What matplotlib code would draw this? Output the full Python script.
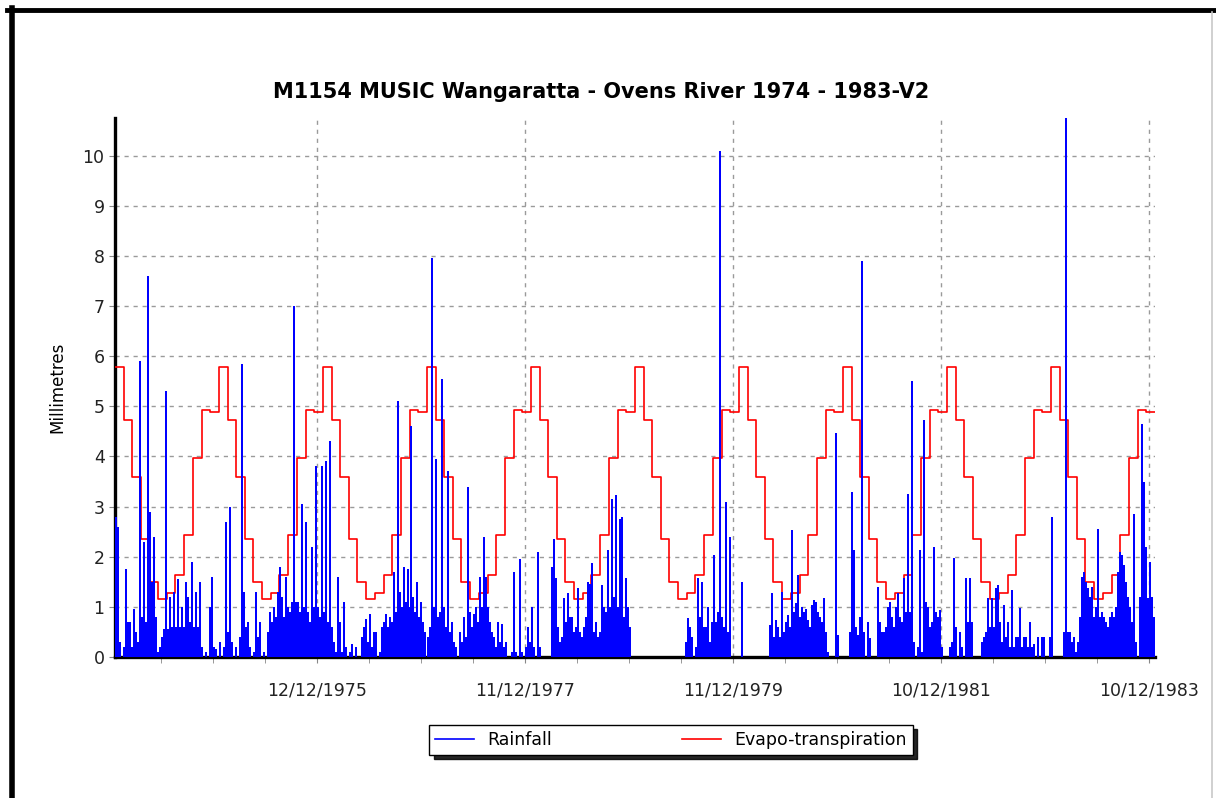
import datetime as dt
import matplotlib
matplotlib.use('Agg')
import matplotlib.pyplot as plt
from matplotlib.lines import Line2D

# weekly rainfall (mm), 52 values per year (max of each week)
rain_1974 = [2.8, 2.6, 0.3, 0, 0.2, 1.75, 0.7, 0.7, 0.2, 0.95, 0.5, 0.3, 5.9, 0.8, 2.3, 0.7,
             7.6, 2.9, 1.5, 2.4, 0.8, 0.1, 0.2, 0.4, 0.55, 5.3, 0.55, 1.2, 0.6, 1.3, 0.6, 1.55,
             0.6, 1.0, 0.6, 1.5, 1.2, 0.7, 1.9, 0.6, 1.3, 0.6, 1.5, 0.2, 0, 0.1, 0, 1.0,
             1.6, 0.2, 0.15, 0]
rain_1975 = [0.3, 0, 0.2, 2.7, 0.5, 3.0, 0.3, 0, 0.2, 0, 0.4, 5.85, 1.3, 0.6, 0.7, 0.2,
             0, 0.1, 1.3, 0.4, 0.7, 0, 0.1, 0, 0.5, 0.9, 0.7, 1.0, 0.8, 1.3, 1.8, 1.2,
             0.8, 1.6, 1.0, 0.9, 1.1, 7.0, 1.1, 1.1, 0.9, 3.05, 1.0, 2.7, 0.9, 0.7, 2.2, 1.0,
             3.8, 1.0, 0.8, 3.8]
rain_1976 = [0.9, 3.9, 0.7, 4.3, 0.6, 0.3, 0.1, 1.6, 0.7, 0.1, 1.1, 0.2, 0, 0.1, 0.25, 0,
             0.2, 0, 0, 0.4, 0.6, 0.75, 0.3, 0.85, 0.2, 0.5, 0.5, 0, 0.1, 0.6, 0.7, 0.85,
             0.6, 0.8, 0.7, 1.7, 0.9, 5.1, 1.3, 1.0, 1.8, 1.1, 1.75, 1.0, 4.6, 1.2, 0.9, 1.5,
             0.8, 1.1, 0.7, 0.5]
rain_1977 = [0.4, 0.6, 7.95, 1.0, 3.95, 0.8, 0.9, 5.55, 1.0, 0.6, 3.7, 0.5, 0.7, 0.3, 0.2, 0,
             0.5, 0.3, 0.8, 0.4, 3.4, 0.9, 0.6, 0.85, 1.0, 0.7, 1.6, 1.0, 2.4, 1.6, 1.0, 0.7,
             0.5, 0.4, 0.2, 0.7, 0.3, 0.65, 0.2, 0.3, 0, 0, 0.1, 1.7, 0.1, 0, 1.95, 0.1,
             0, 0.2, 0.6, 0.3]
rain_1978 = [1.0, 0.2, 0, 2.1, 0.2, 0, 0, 0, 0, 0, 1.8, 2.35, 1.57, 0.6, 0.3, 0.4,
             1.17, 0.7, 1.27, 0.8, 0.8, 0.5, 0.6, 1.37, 0.5, 0.4, 0.6, 0.8, 1.5, 1.45, 1.87, 0.5,
             0.7, 0.4, 0.5, 1.43, 1.0, 0.9, 2.13, 1.0, 3.16, 1.2, 3.23, 1.0, 2.76, 2.8, 0.8, 1.57,
             1.0, 0.6, 0, 0]
rain_1979 = [0, 0, 0, 0, 0, 0, 0, 0, 0, 0, 0, 0, 0, 0, 0, 0,
             0, 0, 0, 0, 0, 0, 0, 0, 0, 0.3, 0.77, 0.6, 0.4, 0, 0.2, 1.57,
             0.8, 1.5, 0.6, 0.6, 1.0, 0.3, 0.7, 2.03, 0.7, 0.9, 10.1, 0.8, 0.6, 3.1, 0.5, 2.4,
             0, 0, 0, 0]
rain_1980 = [0, 1.5, 0, 0, 0, 0, 0, 0, 0, 0, 0, 0, 0, 0, 0, 0.64,
             1.27, 0.4, 0.74, 0.6, 0.4, 1.3, 0.5, 0.7, 0.84, 0.6, 2.53, 0.9, 1.07, 1.63, 0.8, 1.0,
             0.9, 0.95, 0.74, 0.6, 1.04, 1.13, 1.1, 0.9, 0.8, 0.7, 1.17, 0.5, 0.1, 0, 0, 0,
             4.46, 0.44, 0, 0]
rain_1981 = [0, 0, 0, 0.5, 3.3, 2.13, 0.6, 0.44, 0.8, 7.9, 0.5, 0, 0.7, 0.37, 0, 0,
             0, 1.4, 0.7, 0.5, 0.5, 0.6, 1.0, 1.1, 0.8, 0.6, 1.0, 1.27, 0.8, 0.7, 1.57, 0.9,
             3.26, 0.9, 5.5, 0.3, 0, 0.2, 2.13, 0.1, 4.72, 1.1, 1.0, 0.6, 0.7, 2.2, 0.9, 0.8,
             0.94, 0.2, 0, 0]
rain_1982 = [0, 0.2, 0.3, 1.97, 0.6, 0, 0.5, 0.2, 0, 1.57, 0.7, 1.57, 0.7, 0, 0, 0,
             0, 0.3, 0.4, 0.5, 1.17, 0.6, 1.17, 0.6, 1.37, 1.43, 0.7, 0.3, 1.04, 0.4, 0.7, 0.2,
             1.33, 0.2, 0.4, 0.4, 0.97, 0.2, 0.4, 0.4, 0.2, 0.7, 0.2, 0.25, 0, 0.4, 0, 0.4,
             0.4, 0, 0, 0.4]
rain_1983 = [2.8, 0, 0, 0, 0, 0, 0.5, 10.75, 0.5, 0.5, 0.3, 0.4, 0.1, 0.3, 0.8, 1.6,
             1.7, 1.5, 1.37, 1.2, 1.4, 0.8, 1.0, 2.56, 0.8, 0.9, 0.8, 0.7, 0.6, 0.8, 0.9, 0.8,
             1.0, 1.7, 2.1, 2.03, 1.83, 1.5, 1.2, 1.0, 0.7, 2.86, 0.3, 0, 1.2, 4.65, 3.5, 2.2,
             1.17, 1.9, 1.2, 0.8]

years = [1974, 1975, 1976, 1977, 1978, 1979, 1980, 1981, 1982, 1983]
rain_by_year = [rain_1974, rain_1975, rain_1976, rain_1977, rain_1978,
                rain_1979, rain_1980, rain_1981, rain_1982, rain_1983]

# monthly evapo-transpiration (mm/day), Jan..Dec - the same cycle every year
et_monthly = [5.78, 4.72, 3.59, 2.36, 1.50, 1.16, 1.27, 1.63, 2.43, 3.96, 4.92, 4.89]

tick_labels = ['12/12/1975', '11/12/1977', '11/12/1979', '10/12/1981', '10/12/1983']

title = 'M1154 MUSIC Wangaratta - Ovens River 1974 - 1983-V2'

plt.rcParams['font.family'] = ['DejaVu Sans']

fig = plt.figure(figsize=(12.16, 7.98), dpi=100)
ax = fig.add_axes([0.0946, 0.1767, 0.8553, 0.6754])

# evapo-transpiration step line
et_dates = []
et_vals = []
for y in years:
    for m in range(12):
        et_dates.append(dt.datetime(y, m + 1, 1))
        et_vals.append(et_monthly[m])
et_dates.append(dt.datetime(years[-1] + 1, 1, 1))
et_vals.append(et_monthly[-1])
ax.step(et_dates, et_vals, where='post', color='#ff0000', lw=1.2, zorder=3)

# rainfall spikes
for y, vals in zip(years, rain_by_year):
    d = [dt.datetime(y, 1, 1) + dt.timedelta(days=7 * k + 3) for k in range(len(vals))]
    ax.vlines(d, 0, vals, colors='#0000ff', lw=1.1, zorder=4, antialiased=False)

ax.set_xlim(dt.datetime(1974, 1, 1), dt.datetime(1984, 1, 1))
ax.set_ylim(0, 10.75)

major = [dt.datetime.strptime(s, '%d/%m/%Y') for s in tick_labels]
ax.set_xticks(major)
ax.set_xticklabels(tick_labels)
minor = [major[0] + dt.timedelta(days=182.5 * n) for n in range(-4, 17)]
minor = [m for m in minor if dt.datetime(1974, 1, 1) < m < dt.datetime(1984, 1, 1)]
ax.set_xticks(minor, minor=True)
ax.set_yticks(range(0, 11))

ax.grid(True, which='major', color='#9a9a9a', linestyle=(0, (3, 3.5)), lw=1.0)
ax.set_axisbelow(True)
for s in ['top', 'right']:
    ax.spines[s].set_visible(False)
ax.spines['left'].set_linewidth(2.4)
ax.spines['bottom'].set_linewidth(2.4)
ax.tick_params(axis='both', which='both', direction='out', length=4, color='#888888',
               labelsize=12.5, labelcolor='#222222')
ax.tick_params(axis='x', pad=14)

ax.set_ylabel('Millimetres', fontsize=12, labelpad=12)
fig.text(0.494, 0.885, title, ha='center', va='center', fontsize=15, fontweight='bold')

handles = [Line2D([], [], color='#0000ff', lw=1.2), Line2D([], [], color='#ff0000', lw=1.2)]
leg = fig.legend(handles, ['Rainfall', 'Evapo-transpiration'], ncol=2, loc='center',
                 bbox_to_anchor=(0.552, 0.073), bbox_transform=fig.transFigure,
                 fontsize=12.5, frameon=True, fancybox=False, columnspacing=7.5,
                 handlelength=2.2, borderpad=0.35,
                 shadow={'ox': 3, 'oy': -3, 'color': 'black', 'alpha': 0.85})
leg.get_frame().set_edgecolor('black')
leg.get_frame().set_linewidth(1.0)

# figure frame lines
fig.add_artist(Line2D([0.006, 1.0], [0.988, 0.988], transform=fig.transFigure,
                      color='black', lw=3.5))
fig.add_artist(Line2D([0.0095, 0.0095], [0.0, 0.99], transform=fig.transFigure,
                      color='black', lw=4.0))
fig.add_artist(Line2D([0.9965, 0.9965], [0.0, 0.985], transform=fig.transFigure,
                      color='#c8c8c8', lw=1.2))

fig.savefig('out.png', dpi=100)
